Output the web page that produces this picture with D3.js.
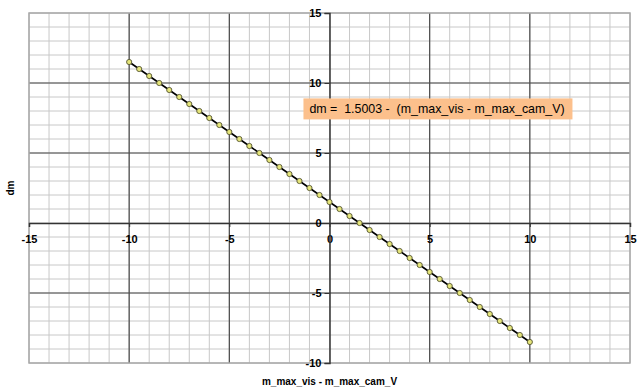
<!DOCTYPE html>
<html>
<head>
<meta charset="utf-8">
<script src="https://cdn.jsdelivr.net/npm/d3@7"></script>
<style>
  body { margin: 0; background: #fff; }
  text { font-family: "Liberation Sans", Arial, sans-serif; }
</style>
</head>
<body>
<div id="chart"></div>
<script>
// chart size and plot box
const width = 640;
const height = 391;
const margin = {left: 29, right: 10, top: 13, bottom: 28};

// data
const xVals = [-10, -9.5, -9, -8.5, -8, -7.5, -7, -6.5, -6, -5.5, -5, -4.5, -4, -3.5, -3, -2.5, -2, -1.5, -1, -0.5,
  0, 0.5, 1, 1.5, 2, 2.5, 3, 3.5, 4, 4.5, 5, 5.5, 6, 6.5, 7, 7.5, 8, 8.5, 9, 9.5, 10];
const dmVals = [11.5003, 11.0003, 10.5003, 10.0003, 9.5003, 9.0003, 8.5003, 8.0003, 7.5003, 7.0003, 6.5003,
  6.0003, 5.5003, 5.0003, 4.5003, 4.0003, 3.5003, 3.0003, 2.5003, 2.0003, 1.5003, 1.0003, 0.5003, 0.0003,
  -0.4997, -0.9997, -1.4997, -1.9997, -2.4997, -2.9997, -3.4997, -3.9997, -4.4997, -4.9997, -5.4997,
  -5.9997, -6.4997, -6.9997, -7.4997, -7.9997, -8.4997];
const xTicks = [-15, -10, -5, 0, 5, 10, 15];
const yTicks = [-10, -5, 0, 5, 10, 15];
const labelText = "dm =  1.5003 -  (m_max_vis - m_max_cam_V)";

const points = xVals.map((x, i) => ({x: x, y: dmVals[i]}));

const svg = d3.select("#chart")
  .append("svg")
  .attr("width", width)
  .attr("height", height);

// scales
let xScale = d3.scaleLinear()
  .domain([-15, 15])
  .range([margin.left, width - margin.right]);

let yScale = d3.scaleLinear()
  .domain([-10, 15])
  .range([height - margin.bottom, margin.top]);

// minor grid every 1 unit
svg.append("g")
  .selectAll("line")
  .data(d3.range(-15, 16))
  .enter()
  .append("line")
    .attr("x1", d => xScale(d))
    .attr("x2", d => xScale(d))
    .attr("y1", yScale(15))
    .attr("y2", yScale(-10))
    .attr("stroke", "#c8c8c8")
    .attr("stroke-width", 1);

svg.append("g")
  .selectAll("line")
  .data(d3.range(-10, 16))
  .enter()
  .append("line")
    .attr("x1", xScale(-15))
    .attr("x2", xScale(15))
    .attr("y1", d => yScale(d))
    .attr("y2", d => yScale(d))
    .attr("stroke", "#c8c8c8")
    .attr("stroke-width", 1);

// major grid every 5 units (not on the border)
svg.append("g")
  .selectAll("line")
  .data(xTicks.filter(d => d != -15 && d != 15 && d != 0))
  .enter()
  .append("line")
    .attr("x1", d => xScale(d))
    .attr("x2", d => xScale(d))
    .attr("y1", yScale(15))
    .attr("y2", yScale(-10))
    .attr("stroke", "#4a4a4a")
    .attr("stroke-width", 1.2);

svg.append("g")
  .selectAll("line")
  .data(yTicks.filter(d => d != -10 && d != 15 && d != 0))
  .enter()
  .append("line")
    .attr("x1", xScale(-15))
    .attr("x2", xScale(15))
    .attr("y1", d => yScale(d))
    .attr("y2", d => yScale(d))
    .attr("stroke", "#4a4a4a")
    .attr("stroke-width", 1.2);

// plot border
svg.append("rect")
  .attr("x", xScale(-15))
  .attr("y", yScale(15))
  .attr("width", xScale(15) - xScale(-15))
  .attr("height", yScale(-10) - yScale(15))
  .attr("fill", "none")
  .attr("stroke", "#a8a8a8")
  .attr("stroke-width", 1.5);

// axes crossing at zero, plain hyphen minus like the original
const xAxis = svg.append("g")
  .attr("transform", `translate(0,${yScale(0)})`)
  .call(d3.axisBottom(xScale).tickValues(xTicks).tickFormat(d => String(d)).tickSize(4).tickPadding(8));

const yAxis = svg.append("g")
  .attr("transform", `translate(${xScale(0)},0)`)
  .call(d3.axisLeft(yScale).tickValues(yTicks).tickFormat(d => String(d)).tickSize(5).tickPadding(3));

[xAxis, yAxis].forEach(g => {
  g.select(".domain").attr("stroke", "#333").attr("stroke-width", 1.5);
  g.selectAll(".tick line").attr("stroke", "#333");
  g.selectAll("text")
    .attr("font-family", "Liberation Sans, Arial, sans-serif")
    .attr("font-size", "11px")
    .attr("font-weight", "bold")
    .attr("fill", "#000");
});
yAxis.selectAll("text").attr("dy", "0.36em");

// line and markers
const line = d3.line()
  .x(d => xScale(d.x))
  .y(d => yScale(d.y));

svg.append("path")
  .datum(points)
  .attr("d", line)
  .attr("fill", "none")
  .attr("stroke", "#000")
  .attr("stroke-width", 1.6);

svg.selectAll(".pt")
  .data(points)
  .enter()
  .append("circle")
    .attr("class", "pt")
    .attr("cx", d => xScale(d.x))
    .attr("cy", d => yScale(d.y))
    .attr("r", 2.6)
    .attr("fill", "#e6e67a")
    .attr("stroke", "#555530")
    .attr("stroke-width", 0.9);

// equation label box
const lab = svg.append("g")
  .attr("transform", `translate(${xScale(-1.3)},${yScale(8.9)})`);

lab.append("rect")
  .attr("x", 0)
  .attr("y", 0)
  .attr("width", 269)
  .attr("height", 21)
  .attr("fill", "#fcc08c");

lab.append("text")
  .attr("x", 6)
  .attr("y", 15)
  .attr("font-size", "12.4px")
  .attr("fill", "#000")
  .style("white-space", "pre")
  .attr("xml:space", "preserve")
  .text(labelText);

// axis titles
svg.append("text")
  .attr("x", xScale(0))
  .attr("y", 385)
  .attr("text-anchor", "middle")
  .attr("font-size", "10px")
  .attr("font-weight", "bold")
  .text("m_max_vis - m_max_cam_V");

svg.append("text")
  .attr("transform", `translate(14,${yScale(2.5)}) rotate(-90)`)
  .attr("text-anchor", "middle")
  .attr("font-size", "10px")
  .attr("font-weight", "bold")
  .text("dm");
</script>
</body>
</html>
